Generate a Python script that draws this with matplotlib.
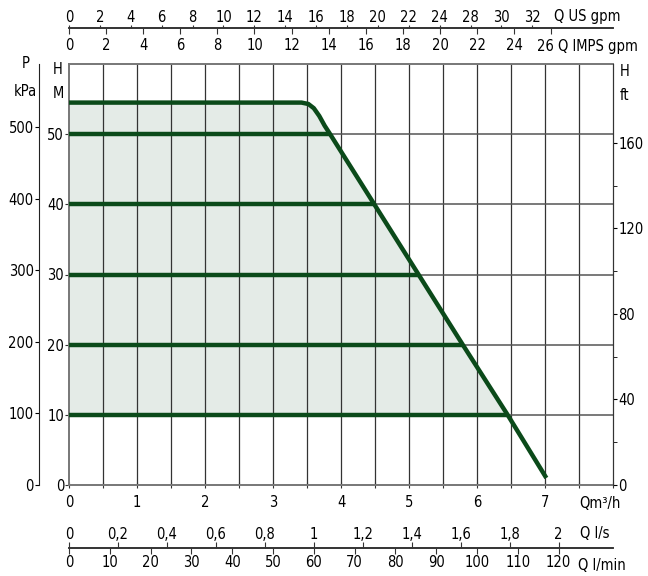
import numpy as np
import matplotlib.pyplot as plt
from matplotlib import font_manager as fm

# fuente estrecha si la hay
narrow = [f for f in fm.fontManager.ttflist
          if f.stretch in ('condensed', 'semi-condensed', 'extra-condensed')
          or 'Narrow' in f.name or 'Condensed' in f.name]
narrow = [f for f in narrow if 'Serif' not in f.name and 'Mono' not in f.name]
if narrow:
    plt.rcParams['font.family'] = [narrow[0].name, 'DejaVu Sans']
    plt.rcParams['font.stretch'] = narrow[0].stretch
    plt.rcParams['font.size'] = 10.5
else:
    plt.rcParams['font.family'] = ['Liberation Sans', 'DejaVu Sans']
    plt.rcParams['font.size'] = 10

# curva de la bomba (Q m3/h, H m)
q_curve = np.array([0, 3.42, 3.52, 3.60, 3.68, 3.76, 3.84, 4.49, 5.14, 5.79, 6.45, 7.02])
h_curve = np.array([54.5, 54.5, 54.3, 53.7, 52.6, 51.2, 50.0, 40, 30, 20, 10, 1.0])
h_levels = [10, 20, 30, 40, 50]

# escalas
q_ticks = np.arange(0, 8.01, 0.5)
q_labels = ['0', '', '1', '', '2', '', '3', '', '4', '', '5', '', '6', '', '7', '', '']
h_ticks = [0, 10, 20, 30, 40, 50]
kpa_ticks = [0, 100, 200, 300, 400, 500]
ft_ticks = [0, 40, 80, 120, 160]
ft_minor = [20, 60, 100, 140]
us_ticks = np.arange(0, 31, 2)
us_labels = ['0', '2', '4', '6', '8', '10', '12', '14', '16', '18', '20', '22', '24', '28', '30', '32']
imp_ticks = np.arange(0, 27, 2)
imp_labels = ['0', '2', '4', '6', '8', '10', '12', '14', '16', '18', '20', '22', '24', '']
ls_ticks = [0, 0.2, 0.4, 0.6, 0.8, 1, 1.2, 1.4, 1.6, 1.8, 2]
ls_labels = ['0', '0,2', '0,4', '0,6', '0,8', '1', '1,2', '1,4', '1,6', '1,8', '2']
lmin_ticks = np.arange(0, 121, 10)

M_KPA = 9.80665
M_FT = 1 / 0.3048
US = 1 / 0.2271247
IMP = 1 / 0.272765
LS = 1 / 3.6
LMIN = 1000 / 60.0

W, H = 648, 576
green = '#0b4a1a'
L, R = 69 / W, 613 / W
fig = plt.figure(figsize=(6.48, 5.76), dpi=100)
ax = fig.add_axes([L, 1 - 485 / H, R - L, (485 - 64) / H])
ax.set_xlim(0, 8)
ax.set_ylim(0, 60)

# grid
for q in q_ticks[1:-1]:
    ax.axvline(q, color='#333333', lw=0.9, zorder=1)
for h in h_levels:
    ax.axhline(h, color='#555555', lw=1.1, zorder=1)

# zona de trabajo
mask = h_curve >= 10
ax.fill_between(q_curve[mask], 10, h_curve[mask], color='#e4ebe7', lw=0, zorder=0)
for h in h_levels:
    q_end = np.interp(h, h_curve[::-1], q_curve[::-1])
    ax.plot([0, q_end], [h, h], color=green, lw=3.2, solid_capstyle='butt', zorder=3)
ax.plot(q_curve, h_curve, color=green, lw=3.2, solid_capstyle='butt',
        solid_joinstyle='round', zorder=4)

for s in ['left', 'bottom', 'top']:
    ax.spines[s].set_color('#777777')
    ax.spines[s].set_linewidth(1.4)
ax.spines['right'].set_color('#333333')

ax.set_xticks(q_ticks)
ax.set_xticklabels(q_labels)
ax.tick_params(axis='x', direction='inout', length=4, pad=5, colors='#333333', labelcolor='black')
ax.set_yticks(h_ticks)
ax.tick_params(axis='y', direction='out', length=3, pad=0.5, colors='#333333', labelcolor='black')

# kPa
ax_p = ax.twinx()
ax_p.set_ylim(0, 60 * M_KPA)
ax_p.yaxis.tick_left()
ax_p.spines['left'].set_position(('outward', 21.4))
ax_p.spines['left'].set_color('#222222')
for s in ['right', 'top', 'bottom']:
    ax_p.spines[s].set_visible(False)
ax_p.set_yticks(kpa_ticks)
ax_p.tick_params(axis='y', direction='out', length=3, pad=1)

# ft
ax_f = ax.twinx()
ax_f.set_ylim(0, 60 * M_FT)
ax_f.set_yticks(ft_ticks)
ax_f.set_yticks(ft_minor, minor=True)
for s in ['left', 'top', 'bottom']:
    ax_f.spines[s].set_visible(False)
ax_f.spines['right'].set_color('#333333')
ax_f.tick_params(axis='y', which='both', direction='out', length=3, pad=0.7)


def scale_axes(y_px, above, factor, ticks, labels, tlen, pad):
    yf = 1 - y_px / H
    if above:
        a = fig.add_axes([L, yf - 0.02, R - L, 0.02])
        a.xaxis.tick_top()
        side = 'top'
    else:
        a = fig.add_axes([L, yf, R - L, 0.02])
        side = 'bottom'
    a.patch.set_visible(False)
    a.set_xlim(0, 8 * factor)
    a.set_yticks([])
    for s in ['left', 'right', 'top', 'bottom']:
        a.spines[s].set_visible(s == side)
    a.spines[side].set_color('#333333')
    a.spines[side].set_linewidth(1.2)
    a.set_xticks(ticks)
    a.set_xticklabels(labels)
    a.tick_params(axis='x', direction='out', length=tlen, pad=pad, colors='#333333',
                  labelcolor='black')
    return a


scale_axes(28, True, US, us_ticks, us_labels, 2.2, 0)
scale_axes(28, False, IMP, imp_ticks, imp_labels, 4.3, 2.8)
scale_axes(548, True, LS, ls_ticks, ls_labels, 4.3, 0)
scale_axes(548, False, LMIN, lmin_ticks, [str(v) for v in lmin_ticks], 4.3, 1)


def txt(x, y, s, ha='left'):
    fig.text(x / W, 1 - y / H, s, ha=ha, va='center')


txt(554, 17, 'Q US gpm')
txt(537, 46, '26 Q IMPS gpm')
txt(579, 503, 'Qm³/h')
txt(580, 533, 'Q l/s')
txt(578, 565, 'Q l/min')
txt(26, 63, 'P', ha='center')
txt(25, 92, 'kPa', ha='center')
txt(58, 69, 'H', ha='center')
txt(58, 93, 'M', ha='center')
txt(625, 71, 'H', ha='center')
txt(625, 96, 'ft', ha='center')

plt.savefig('out.png', dpi=100)
